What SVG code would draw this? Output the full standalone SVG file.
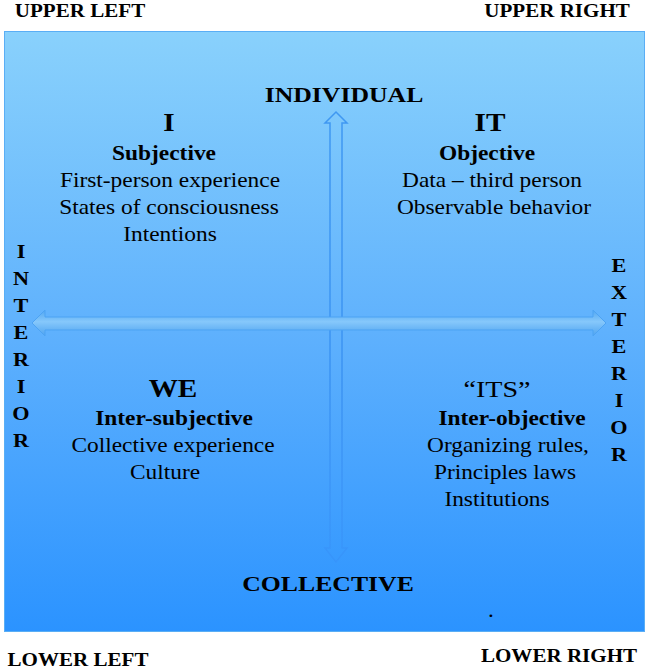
<svg xmlns="http://www.w3.org/2000/svg" width="650" height="672" viewBox="0 0 650 672">
  <defs>
    <linearGradient id="bg" x1="0" y1="0" x2="0" y2="1">
      <stop offset="0" stop-color="#89d1fc"/>
      <stop offset="0.5" stop-color="#5fb1fd"/>
      <stop offset="1" stop-color="#2b93ff"/>
    </linearGradient>
    <linearGradient id="harrow" x1="0" y1="0" x2="0" y2="1">
      <stop offset="0" stop-color="#4fa6f2"/>
      <stop offset="0.45" stop-color="#86c8fb"/>
      <stop offset="1" stop-color="#4ea3f0"/>
    </linearGradient>
    <linearGradient id="varrowStroke" x1="0" y1="0" x2="0" y2="1">
      <stop offset="0" stop-color="#3f98f2" stop-opacity="1"/>
      <stop offset="0.6" stop-color="#3a92f2" stop-opacity="0.95"/>
      <stop offset="1" stop-color="#368ef6" stop-opacity="0.45"/>
    </linearGradient>
    <style>
      text { font-family: "Liberation Serif", "Times New Roman", serif; fill: #000; text-anchor: middle; }
      .corner { font-size: 18px; font-weight: bold; }
      .axis { font-size: 22px; font-weight: bold; }
      .side { font-size: 19px; font-weight: bold; }
      .head { font-size: 25px; font-weight: bold; }
      .headr { font-size: 24px; }
      .sub { font-size: 20px; font-weight: bold; }
      .body { font-size: 20px; }
    </style>
  </defs>

  <rect x="0" y="0" width="650" height="672" fill="#ffffff"/>

  <g id="corners">
    <text class="corner" transform="matrix(1.17 0 0 1 80 17)">UPPER LEFT</text>
    <text class="corner" transform="matrix(1.17 0 0 1 557 17)">UPPER RIGHT</text>
    <text class="corner" transform="matrix(1.17 0 0 1 78 666)">LOWER LEFT</text>
    <text class="corner" transform="matrix(1.17 0 0 1 559 662)">LOWER RIGHT</text>
  </g>

  <g id="frame">
    <rect x="4.5" y="31.5" width="640" height="600" fill="url(#bg)" stroke="#5aaef5" stroke-width="1"/>
  </g>

  <g id="connectors">
    <path id="vertical-arrow" d="M336,112 L347,123 L342,123 L342,548 L347,548 L336,562 L325,548 L330,548 L330,123 L325,123 Z" fill="none" stroke="url(#varrowStroke)" stroke-width="1.5" stroke-linejoin="miter"/>
    <path id="horizontal-arrow" d="M32,323 L45,310 L45,317 L593,317 L593,310 L606,323 L593,336 L593,330 L45,330 L45,336 Z" fill="url(#harrow)" stroke="#4da3f3" stroke-width="1"/>
  </g>

  <g id="individual">
    <text class="axis" transform="matrix(1.17 0 0 1 344 102)">INDIVIDUAL</text>
  </g>
  <g id="collective">
    <text class="axis" transform="matrix(1.17 0 0 1 328 591)">COLLECTIVE</text>
  </g>

  <g id="interior">
    <text class="side" transform="matrix(1.17 0 0 1 21 258)">I</text>
    <text class="side" transform="matrix(1.17 0 0 1 21 285)">N</text>
    <text class="side" transform="matrix(1.17 0 0 1 21 312)">T</text>
    <text class="side" transform="matrix(1.17 0 0 1 21 339)">E</text>
    <text class="side" transform="matrix(1.17 0 0 1 21 366)">R</text>
    <text class="side" transform="matrix(1.17 0 0 1 21 393)">I</text>
    <text class="side" transform="matrix(1.17 0 0 1 21 420)">O</text>
    <text class="side" transform="matrix(1.17 0 0 1 21 447)">R</text>
  </g>

  <g id="exterior">
    <text class="side" transform="matrix(1.17 0 0 1 619 272)">E</text>
    <text class="side" transform="matrix(1.17 0 0 1 619 299)">X</text>
    <text class="side" transform="matrix(1.17 0 0 1 619 326)">T</text>
    <text class="side" transform="matrix(1.17 0 0 1 619 353)">E</text>
    <text class="side" transform="matrix(1.17 0 0 1 619 380)">R</text>
    <text class="side" transform="matrix(1.17 0 0 1 619 407)">I</text>
    <text class="side" transform="matrix(1.17 0 0 1 619 434)">O</text>
    <text class="side" transform="matrix(1.17 0 0 1 619 461)">R</text>
  </g>

  <g id="quadrant-I">
    <text class="head" transform="matrix(1.17 0 0 1 169 131)">I</text>
    <text class="sub" transform="matrix(1.17 0 0 1 164 160)">Subjective</text>
    <text class="body" transform="matrix(1.17 0 0 1 170 187)">First-person experience</text>
    <text class="body" transform="matrix(1.17 0 0 1 169 214)">States of consciousness</text>
    <text class="body" transform="matrix(1.17 0 0 1 170 241)">Intentions</text>
  </g>

  <g id="quadrant-IT">
    <text class="head" transform="matrix(1.17 0 0 1 490 131)">IT</text>
    <text class="sub" transform="matrix(1.17 0 0 1 487 160)">Objective</text>
    <text class="body" transform="matrix(1.17 0 0 1 492 187)">Data – third person</text>
    <text class="body" transform="matrix(1.17 0 0 1 494 214)">Observable behavior</text>
  </g>

  <g id="quadrant-WE">
    <text class="head" transform="matrix(1.17 0 0 1 173 397)">WE</text>
    <text class="sub" transform="matrix(1.17 0 0 1 174 425)">Inter-subjective</text>
    <text class="body" transform="matrix(1.17 0 0 1 173 452)">Collective experience</text>
    <text class="body" transform="matrix(1.17 0 0 1 165 479)">Culture</text>
  </g>

  <g id="quadrant-ITS">
    <text class="headr" transform="matrix(1.17 0 0 1 497 397)">“ITS”</text>
    <text class="sub" transform="matrix(1.17 0 0 1 512 425)">Inter-objective</text>
    <text class="body" transform="matrix(1.17 0 0 1 508 452)">Organizing rules,</text>
    <text class="body" transform="matrix(1.17 0 0 1 505 479)">Principles laws</text>
    <text class="body" transform="matrix(1.17 0 0 1 497 506)">Institutions</text>
    <text class="body" transform="matrix(1.17 0 0 1 491 617)">.</text>
  </g>
</svg>
